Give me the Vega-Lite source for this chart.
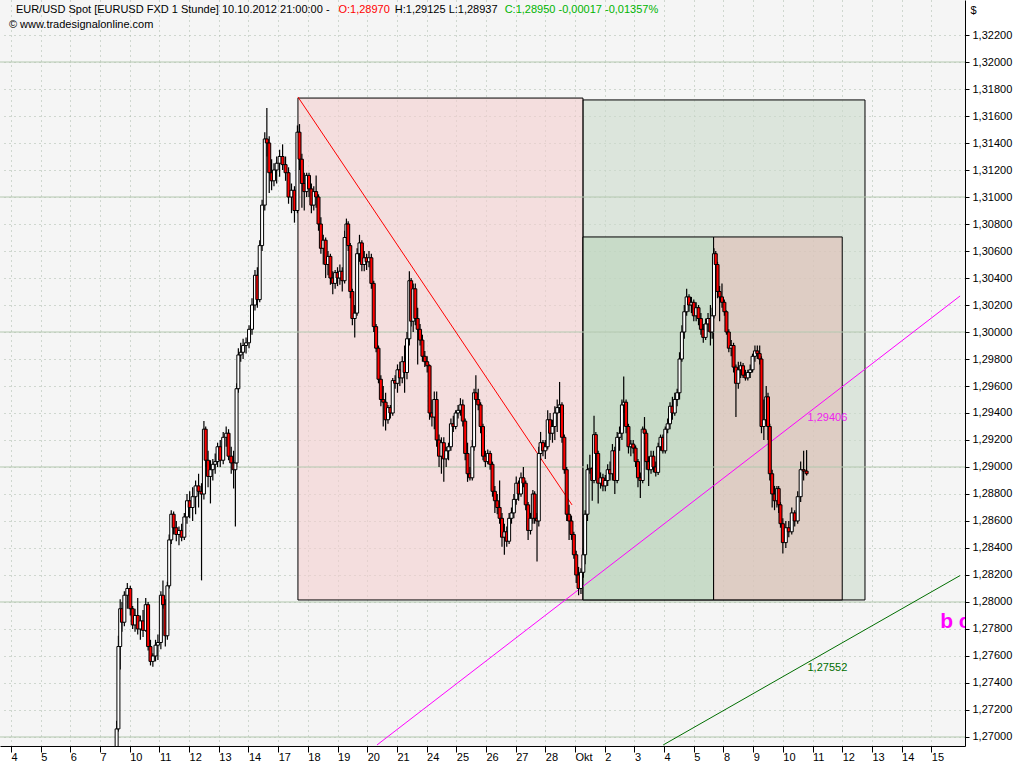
{
  "$schema": "https://vega.github.io/schema/vega-lite/v6.json",
  "width": 965,
  "height": 746,
  "autosize": {"type": "none"},
  "padding": {"left": 0, "top": 0, "right": 59, "bottom": 22},
  "background": "#ffffff",
  "config": {
    "view": {"fill": "#f5f5f5", "stroke": null},
    "font": "Liberation Sans",
    "axis": {"labelFont": "Liberation Sans", "labelFontSize": 11, "labelColor": "#000000", "tickColor": "#000000", "domainColor": "#000000", "gridColor": "#a8b8a8", "gridDash": [1, 4], "labelFlush": false, "labelOverlap": false},
    "axisX": {"tickCount": 32, "tickMinStep": 1},
    "axisY": {"tickCount": 28, "tickMinStep": 0.002}
  },
  "datasets": {
    "boxes": [
      {"zone": "Projektion", "x1": 19.267, "x2": 28.767, "y1": 1.28015, "y2": 1.31719},
      {"zone": "Abwaerts", "x1": 9.667, "x2": 19.267, "y1": 1.28015, "y2": 1.31733},
      {"zone": "Aufwaerts", "x1": 19.267, "x2": 23.667, "y1": 1.28015, "y2": 1.30704},
      {"zone": "Korrektur", "x1": 23.667, "x2": 28.0, "y1": 1.28015, "y2": 1.30704}
    ],
    "levels": [{"lvl": 1.27}, {"lvl": 1.28}, {"lvl": 1.29}, {"lvl": 1.30}, {"lvl": 1.31}, {"lvl": 1.32}],
    "lines": [
      {"name": "Abwaertstrend", "x1": 9.667, "y1": 1.31741, "x2": 18.9, "y2": 1.28719},
      {"name": "Trendlinie", "x1": 12.33, "y1": 1.26941, "x2": 31.97, "y2": 1.30267},
      {"name": "Trendlinie 2", "x1": 21.97, "y1": 1.26941, "x2": 31.97, "y2": 1.28196}
    ],
    "labels": [
      {"name": "Trendlinie", "d": 26.83, "p": 1.29406, "t": "1,29406"},
      {"name": "Trendlinie 2", "d": 26.83, "p": 1.27552, "t": "1,27552"}
    ],
    "header": [
      {"seg": "info", "d": 0.167, "p": 1.32385, "t": "EUR/USD Spot [EURUSD FXD  1 Stunde] 10.10.2012 21:00:00 -"},
      {"seg": "open", "d": 11.03, "p": 1.32385, "t": "O:1,28970"},
      {"seg": "info", "d": 12.93, "p": 1.32385, "t": "H:1,29125 L:1,28937"},
      {"seg": "close", "d": 16.63, "p": 1.32385, "t": "C:1,28950 -0,00017 -0,01357%"},
      {"seg": "info", "d": -0.067, "p": 1.32274, "t": "© www.tradesignalonline.com"}
    ],
    "candles": [
      {"d": 3.56, "o": 1.2685, "h": 1.2712, "l": 1.2680, "c": 1.2706},
      {"d": 3.62, "o": 1.2706, "h": 1.2775, "l": 1.2704, "c": 1.2767},
      {"d": 3.68, "o": 1.2767, "h": 1.2802, "l": 1.2750, "c": 1.2795},
      {"d": 3.74, "o": 1.2795, "h": 1.2800, "l": 1.2778, "c": 1.2785},
      {"d": 3.82, "o": 1.2785, "h": 1.2808, "l": 1.2782, "c": 1.2805},
      {"d": 3.92, "o": 1.2805, "h": 1.2814, "l": 1.2795, "c": 1.2810},
      {"d": 4.02, "o": 1.2810, "h": 1.2812, "l": 1.2790, "c": 1.2795},
      {"d": 4.10, "o": 1.2795, "h": 1.2797, "l": 1.2780, "c": 1.2783},
      {"d": 4.18, "o": 1.2783, "h": 1.2795, "l": 1.2778, "c": 1.2790},
      {"d": 4.27, "o": 1.2790, "h": 1.2803, "l": 1.2776, "c": 1.2780},
      {"d": 4.36, "o": 1.2780, "h": 1.2790, "l": 1.2772, "c": 1.2786},
      {"d": 4.45, "o": 1.2786, "h": 1.2794, "l": 1.2774, "c": 1.2779},
      {"d": 4.54, "o": 1.2779, "h": 1.2803, "l": 1.2778, "c": 1.2798},
      {"d": 4.62, "o": 1.2798, "h": 1.2800, "l": 1.2764, "c": 1.2767},
      {"d": 4.70, "o": 1.2767, "h": 1.2772, "l": 1.2753, "c": 1.2756},
      {"d": 4.78, "o": 1.2756, "h": 1.2762, "l": 1.2752, "c": 1.2760},
      {"d": 4.87, "o": 1.2760, "h": 1.2772, "l": 1.2756, "c": 1.2768},
      {"d": 4.95, "o": 1.2768, "h": 1.2776, "l": 1.2757, "c": 1.2770},
      {"d": 5.05, "o": 1.2770, "h": 1.2808, "l": 1.2765, "c": 1.2805},
      {"d": 5.12, "o": 1.2805, "h": 1.2816, "l": 1.2795, "c": 1.2798},
      {"d": 5.20, "o": 1.2798, "h": 1.2802, "l": 1.2767, "c": 1.2775},
      {"d": 5.27, "o": 1.2775, "h": 1.2815, "l": 1.2772, "c": 1.2812},
      {"d": 5.33, "o": 1.2812, "h": 1.2850, "l": 1.2810, "c": 1.2846},
      {"d": 5.40, "o": 1.2846, "h": 1.2868, "l": 1.2843, "c": 1.2865},
      {"d": 5.48, "o": 1.2865, "h": 1.2867, "l": 1.2850, "c": 1.2855},
      {"d": 5.57, "o": 1.2855, "h": 1.2860, "l": 1.2845, "c": 1.2850},
      {"d": 5.66, "o": 1.2850, "h": 1.2856, "l": 1.2842, "c": 1.2853},
      {"d": 5.75, "o": 1.2853, "h": 1.2858, "l": 1.2845, "c": 1.2848},
      {"d": 5.84, "o": 1.2848, "h": 1.2866, "l": 1.2846, "c": 1.2863},
      {"d": 5.93, "o": 1.2863, "h": 1.2880, "l": 1.2858, "c": 1.2875},
      {"d": 6.02, "o": 1.2875, "h": 1.2882, "l": 1.2862, "c": 1.2870},
      {"d": 6.12, "o": 1.2870, "h": 1.2885, "l": 1.2860, "c": 1.2878},
      {"d": 6.22, "o": 1.2878, "h": 1.2890, "l": 1.2865, "c": 1.2886},
      {"d": 6.32, "o": 1.2886, "h": 1.2895, "l": 1.2870, "c": 1.2882},
      {"d": 6.42, "o": 1.2882, "h": 1.2888, "l": 1.2816, "c": 1.2880},
      {"d": 6.50, "o": 1.2880, "h": 1.2934, "l": 1.2876, "c": 1.2928},
      {"d": 6.56, "o": 1.2928, "h": 1.2930, "l": 1.2900, "c": 1.2905},
      {"d": 6.64, "o": 1.2905, "h": 1.2912, "l": 1.2885, "c": 1.2893},
      {"d": 6.72, "o": 1.2893, "h": 1.2905, "l": 1.2873, "c": 1.2898},
      {"d": 6.80, "o": 1.2898, "h": 1.2906, "l": 1.2890, "c": 1.2902},
      {"d": 6.88, "o": 1.2902, "h": 1.2910, "l": 1.2895, "c": 1.2904},
      {"d": 6.96, "o": 1.2904, "h": 1.2918, "l": 1.2900, "c": 1.2915},
      {"d": 7.05, "o": 1.2915, "h": 1.2920, "l": 1.2900, "c": 1.2905},
      {"d": 7.15, "o": 1.2905, "h": 1.2926, "l": 1.2902, "c": 1.2922},
      {"d": 7.25, "o": 1.2922, "h": 1.2930, "l": 1.2915, "c": 1.2925},
      {"d": 7.33, "o": 1.2925, "h": 1.2928, "l": 1.2905, "c": 1.2908},
      {"d": 7.42, "o": 1.2908, "h": 1.2915, "l": 1.2895, "c": 1.2903},
      {"d": 7.50, "o": 1.2903, "h": 1.2912, "l": 1.2884, "c": 1.2898},
      {"d": 7.56, "o": 1.2898, "h": 1.2905, "l": 1.2856, "c": 1.2903},
      {"d": 7.60, "o": 1.2903, "h": 1.2962, "l": 1.2900, "c": 1.2958},
      {"d": 7.66, "o": 1.2958, "h": 1.2988, "l": 1.2955, "c": 1.2983},
      {"d": 7.74, "o": 1.2983, "h": 1.2992, "l": 1.2978, "c": 1.2985},
      {"d": 7.82, "o": 1.2985, "h": 1.2995, "l": 1.2980, "c": 1.2990},
      {"d": 7.92, "o": 1.2990, "h": 1.2996, "l": 1.2984, "c": 1.2992},
      {"d": 8.02, "o": 1.2992, "h": 1.3005, "l": 1.2988, "c": 1.3002},
      {"d": 8.12, "o": 1.3002, "h": 1.3025, "l": 1.2998, "c": 1.3020},
      {"d": 8.22, "o": 1.3020, "h": 1.3046, "l": 1.3016, "c": 1.3042},
      {"d": 8.30, "o": 1.3042, "h": 1.3048, "l": 1.3018, "c": 1.3024},
      {"d": 8.38, "o": 1.3024, "h": 1.3068, "l": 1.3022, "c": 1.3064},
      {"d": 8.46, "o": 1.3064, "h": 1.3098, "l": 1.3060, "c": 1.3094},
      {"d": 8.55, "o": 1.3094, "h": 1.3148, "l": 1.3090, "c": 1.3143},
      {"d": 8.62, "o": 1.3143, "h": 1.3166, "l": 1.3130, "c": 1.3140},
      {"d": 8.70, "o": 1.3140, "h": 1.3145, "l": 1.3103, "c": 1.3118},
      {"d": 8.78, "o": 1.3118, "h": 1.3128, "l": 1.3105, "c": 1.3112},
      {"d": 8.86, "o": 1.3112, "h": 1.3125, "l": 1.3108, "c": 1.3120},
      {"d": 8.95, "o": 1.3120, "h": 1.3130, "l": 1.3110, "c": 1.3125},
      {"d": 9.05, "o": 1.3125, "h": 1.3135, "l": 1.3115, "c": 1.3130},
      {"d": 9.15, "o": 1.3130, "h": 1.3139, "l": 1.3120, "c": 1.3124},
      {"d": 9.25, "o": 1.3124, "h": 1.3130, "l": 1.3112, "c": 1.3118},
      {"d": 9.35, "o": 1.3118, "h": 1.3122, "l": 1.3095, "c": 1.3100},
      {"d": 9.45, "o": 1.3100, "h": 1.3110, "l": 1.3088, "c": 1.3105},
      {"d": 9.55, "o": 1.3105, "h": 1.3108, "l": 1.3081, "c": 1.3090},
      {"d": 9.65, "o": 1.3090, "h": 1.3153, "l": 1.3088, "c": 1.3148},
      {"d": 9.72, "o": 1.3148, "h": 1.3154, "l": 1.3120, "c": 1.3128},
      {"d": 9.80, "o": 1.3128, "h": 1.3132, "l": 1.3092, "c": 1.3110},
      {"d": 9.88, "o": 1.3110, "h": 1.3118, "l": 1.3090, "c": 1.3104},
      {"d": 9.96, "o": 1.3104, "h": 1.3118, "l": 1.3100, "c": 1.3116},
      {"d": 10.04, "o": 1.3116, "h": 1.3118, "l": 1.3100, "c": 1.3106},
      {"d": 10.12, "o": 1.3106, "h": 1.3110, "l": 1.3088, "c": 1.3094},
      {"d": 10.20, "o": 1.3094, "h": 1.3108, "l": 1.3090, "c": 1.3104},
      {"d": 10.28, "o": 1.3104, "h": 1.3116, "l": 1.3092, "c": 1.3100},
      {"d": 10.36, "o": 1.3100, "h": 1.3102, "l": 1.3075, "c": 1.3080},
      {"d": 10.44, "o": 1.3080, "h": 1.3085, "l": 1.3058, "c": 1.3062},
      {"d": 10.52, "o": 1.3062, "h": 1.3072, "l": 1.3050, "c": 1.3068},
      {"d": 10.60, "o": 1.3068, "h": 1.3070, "l": 1.3040, "c": 1.3050},
      {"d": 10.68, "o": 1.3050, "h": 1.3060, "l": 1.3042, "c": 1.3056},
      {"d": 10.76, "o": 1.3056, "h": 1.3058, "l": 1.3035, "c": 1.3040},
      {"d": 10.84, "o": 1.3040, "h": 1.3045, "l": 1.3028, "c": 1.3036},
      {"d": 10.92, "o": 1.3036, "h": 1.3046, "l": 1.3032, "c": 1.3044},
      {"d": 11.00, "o": 1.3044, "h": 1.3048, "l": 1.3034, "c": 1.3040},
      {"d": 11.08, "o": 1.3040, "h": 1.3050, "l": 1.3035, "c": 1.3045},
      {"d": 11.16, "o": 1.3045, "h": 1.3048, "l": 1.3030, "c": 1.3038},
      {"d": 11.24, "o": 1.3038, "h": 1.3075, "l": 1.3036, "c": 1.3070},
      {"d": 11.30, "o": 1.3070, "h": 1.3084, "l": 1.3066, "c": 1.3080},
      {"d": 11.36, "o": 1.3080, "h": 1.3082, "l": 1.3060, "c": 1.3064},
      {"d": 11.43, "o": 1.3064, "h": 1.3066, "l": 1.3025, "c": 1.3030},
      {"d": 11.50, "o": 1.3030, "h": 1.3032, "l": 1.3005, "c": 1.3010},
      {"d": 11.58, "o": 1.3010, "h": 1.3020, "l": 1.2996, "c": 1.3014},
      {"d": 11.66, "o": 1.3014, "h": 1.3062, "l": 1.3012, "c": 1.3058},
      {"d": 11.74, "o": 1.3058, "h": 1.3072, "l": 1.3052, "c": 1.3066},
      {"d": 11.82, "o": 1.3066, "h": 1.3068, "l": 1.3045, "c": 1.3050},
      {"d": 11.90, "o": 1.3050, "h": 1.3060, "l": 1.3045, "c": 1.3055},
      {"d": 11.98, "o": 1.3055, "h": 1.3058, "l": 1.3046, "c": 1.3052},
      {"d": 12.06, "o": 1.3052, "h": 1.3060, "l": 1.3048, "c": 1.3055},
      {"d": 12.14, "o": 1.3055, "h": 1.3058, "l": 1.3032, "c": 1.3036},
      {"d": 12.22, "o": 1.3036, "h": 1.3038, "l": 1.3000, "c": 1.3004},
      {"d": 12.30, "o": 1.3004, "h": 1.3006, "l": 1.2985, "c": 1.2988},
      {"d": 12.38, "o": 1.2988, "h": 1.2990, "l": 1.2962, "c": 1.2965},
      {"d": 12.46, "o": 1.2965, "h": 1.2968, "l": 1.2945, "c": 1.2950},
      {"d": 12.54, "o": 1.2950, "h": 1.2960, "l": 1.2930, "c": 1.2948},
      {"d": 12.62, "o": 1.2948, "h": 1.2955, "l": 1.2927, "c": 1.2935},
      {"d": 12.70, "o": 1.2935, "h": 1.2946, "l": 1.2932, "c": 1.2944},
      {"d": 12.78, "o": 1.2944, "h": 1.2946, "l": 1.2936, "c": 1.2940},
      {"d": 12.86, "o": 1.2940, "h": 1.2966, "l": 1.2938, "c": 1.2964},
      {"d": 12.94, "o": 1.2964, "h": 1.2968, "l": 1.2958, "c": 1.2962},
      {"d": 13.02, "o": 1.2962, "h": 1.2976, "l": 1.2955, "c": 1.2972},
      {"d": 13.10, "o": 1.2972, "h": 1.2978, "l": 1.2960, "c": 1.2966},
      {"d": 13.18, "o": 1.2966, "h": 1.2982, "l": 1.2962, "c": 1.2978},
      {"d": 13.26, "o": 1.2978, "h": 1.2990, "l": 1.2955, "c": 1.2970},
      {"d": 13.34, "o": 1.2970, "h": 1.3000, "l": 1.2965, "c": 1.2995},
      {"d": 13.42, "o": 1.2995, "h": 1.3045, "l": 1.2990, "c": 1.3038},
      {"d": 13.48, "o": 1.3038, "h": 1.3040, "l": 1.3004, "c": 1.3008},
      {"d": 13.55, "o": 1.3008, "h": 1.3036, "l": 1.3000, "c": 1.3032},
      {"d": 13.62, "o": 1.3032, "h": 1.3036, "l": 1.3005, "c": 1.3010},
      {"d": 13.70, "o": 1.3010, "h": 1.3018, "l": 1.2976, "c": 1.3002},
      {"d": 13.78, "o": 1.3002, "h": 1.3006, "l": 1.2990, "c": 1.2994},
      {"d": 13.86, "o": 1.2994, "h": 1.2998, "l": 1.2978, "c": 1.2982},
      {"d": 13.94, "o": 1.2982, "h": 1.2986, "l": 1.2974, "c": 1.2978},
      {"d": 14.02, "o": 1.2978, "h": 1.2982, "l": 1.2970, "c": 1.2975},
      {"d": 14.10, "o": 1.2975, "h": 1.2976, "l": 1.2935, "c": 1.2940},
      {"d": 14.18, "o": 1.2940, "h": 1.2950, "l": 1.2930, "c": 1.2937},
      {"d": 14.26, "o": 1.2937, "h": 1.2956, "l": 1.2928, "c": 1.2950},
      {"d": 14.34, "o": 1.2950, "h": 1.2956, "l": 1.2915, "c": 1.2920},
      {"d": 14.42, "o": 1.2920, "h": 1.2924, "l": 1.2900, "c": 1.2908},
      {"d": 14.50, "o": 1.2908, "h": 1.2922, "l": 1.2895, "c": 1.2918},
      {"d": 14.58, "o": 1.2918, "h": 1.2922, "l": 1.2889, "c": 1.2906},
      {"d": 14.66, "o": 1.2906, "h": 1.2915, "l": 1.2900, "c": 1.2912},
      {"d": 14.74, "o": 1.2912, "h": 1.2918, "l": 1.2905, "c": 1.2915},
      {"d": 14.82, "o": 1.2915, "h": 1.2936, "l": 1.2912, "c": 1.2932},
      {"d": 14.90, "o": 1.2932, "h": 1.2938, "l": 1.2926, "c": 1.2930},
      {"d": 14.98, "o": 1.2930, "h": 1.2942, "l": 1.2928, "c": 1.2940},
      {"d": 15.06, "o": 1.2940, "h": 1.2946, "l": 1.2936, "c": 1.2942},
      {"d": 15.14, "o": 1.2942, "h": 1.2951, "l": 1.2938, "c": 1.2946},
      {"d": 15.22, "o": 1.2946, "h": 1.2950, "l": 1.2930, "c": 1.2934},
      {"d": 15.30, "o": 1.2934, "h": 1.2936, "l": 1.2905, "c": 1.2910},
      {"d": 15.38, "o": 1.2910, "h": 1.2918, "l": 1.2889, "c": 1.2895},
      {"d": 15.46, "o": 1.2895, "h": 1.2900, "l": 1.2890, "c": 1.2892},
      {"d": 15.54, "o": 1.2892, "h": 1.2920, "l": 1.2890, "c": 1.2915},
      {"d": 15.60, "o": 1.2915, "h": 1.2958, "l": 1.2912, "c": 1.2955},
      {"d": 15.66, "o": 1.2955, "h": 1.2968, "l": 1.2948, "c": 1.2950},
      {"d": 15.74, "o": 1.2950, "h": 1.2958, "l": 1.2942, "c": 1.2946},
      {"d": 15.82, "o": 1.2946, "h": 1.2948, "l": 1.2925, "c": 1.2930},
      {"d": 15.90, "o": 1.2930, "h": 1.2932, "l": 1.2905, "c": 1.2908},
      {"d": 15.98, "o": 1.2908, "h": 1.2912, "l": 1.2900, "c": 1.2904},
      {"d": 16.06, "o": 1.2904, "h": 1.2913, "l": 1.2902, "c": 1.2910},
      {"d": 16.14, "o": 1.2910, "h": 1.2912, "l": 1.2898, "c": 1.2902},
      {"d": 16.22, "o": 1.2902, "h": 1.2904, "l": 1.2878, "c": 1.2882},
      {"d": 16.30, "o": 1.2882, "h": 1.2886, "l": 1.2866, "c": 1.2875},
      {"d": 16.38, "o": 1.2875, "h": 1.2880, "l": 1.2865, "c": 1.2870},
      {"d": 16.46, "o": 1.2870, "h": 1.2890, "l": 1.2858, "c": 1.2862},
      {"d": 16.54, "o": 1.2862, "h": 1.2866, "l": 1.2841, "c": 1.2848},
      {"d": 16.62, "o": 1.2848, "h": 1.2858, "l": 1.2835, "c": 1.2852},
      {"d": 16.70, "o": 1.2852, "h": 1.2856, "l": 1.2841, "c": 1.2845},
      {"d": 16.78, "o": 1.2845, "h": 1.2866, "l": 1.2843, "c": 1.2862},
      {"d": 16.86, "o": 1.2862, "h": 1.2870, "l": 1.2858, "c": 1.2866},
      {"d": 16.94, "o": 1.2866, "h": 1.2880, "l": 1.2862, "c": 1.2876},
      {"d": 17.02, "o": 1.2876, "h": 1.2893, "l": 1.2872, "c": 1.2888},
      {"d": 17.10, "o": 1.2888, "h": 1.2890, "l": 1.2875, "c": 1.2880},
      {"d": 17.18, "o": 1.2880, "h": 1.2896, "l": 1.2878, "c": 1.2892},
      {"d": 17.26, "o": 1.2892, "h": 1.2900, "l": 1.2885, "c": 1.2888},
      {"d": 17.34, "o": 1.2888, "h": 1.2890, "l": 1.2868, "c": 1.2872},
      {"d": 17.42, "o": 1.2872, "h": 1.2874, "l": 1.2846, "c": 1.2853},
      {"d": 17.50, "o": 1.2853, "h": 1.2866, "l": 1.2850, "c": 1.2862},
      {"d": 17.58, "o": 1.2862, "h": 1.2883, "l": 1.2858, "c": 1.2880},
      {"d": 17.64, "o": 1.2880, "h": 1.2882, "l": 1.2858, "c": 1.2862},
      {"d": 17.72, "o": 1.2862, "h": 1.2866, "l": 1.2830, "c": 1.2860},
      {"d": 17.78, "o": 1.2860, "h": 1.2915, "l": 1.2856, "c": 1.2910},
      {"d": 17.84, "o": 1.2910, "h": 1.2926, "l": 1.2905, "c": 1.2918},
      {"d": 17.92, "o": 1.2918, "h": 1.2920, "l": 1.2908, "c": 1.2912},
      {"d": 18.00, "o": 1.2912, "h": 1.2920, "l": 1.2906, "c": 1.2915},
      {"d": 18.08, "o": 1.2915, "h": 1.2942, "l": 1.2913, "c": 1.2935},
      {"d": 18.16, "o": 1.2935, "h": 1.2940, "l": 1.2920, "c": 1.2925},
      {"d": 18.24, "o": 1.2925, "h": 1.2935, "l": 1.2918, "c": 1.2930},
      {"d": 18.32, "o": 1.2930, "h": 1.2945, "l": 1.2920, "c": 1.2940},
      {"d": 18.40, "o": 1.2940, "h": 1.2950, "l": 1.2926, "c": 1.2944},
      {"d": 18.48, "o": 1.2944, "h": 1.2963, "l": 1.2940, "c": 1.2946},
      {"d": 18.56, "o": 1.2946, "h": 1.2948, "l": 1.2918, "c": 1.2922},
      {"d": 18.64, "o": 1.2922, "h": 1.2924, "l": 1.2895, "c": 1.2898},
      {"d": 18.72, "o": 1.2898, "h": 1.2900, "l": 1.2860, "c": 1.2865},
      {"d": 18.80, "o": 1.2865, "h": 1.2872, "l": 1.2846, "c": 1.2860},
      {"d": 18.88, "o": 1.2860, "h": 1.2864, "l": 1.2846, "c": 1.2850},
      {"d": 18.96, "o": 1.2850, "h": 1.2852, "l": 1.2832, "c": 1.2835},
      {"d": 19.04, "o": 1.2835, "h": 1.2838, "l": 1.2814, "c": 1.2820},
      {"d": 19.12, "o": 1.2820, "h": 1.2826, "l": 1.2805, "c": 1.2810},
      {"d": 19.20, "o": 1.2810, "h": 1.2825, "l": 1.2806, "c": 1.2822},
      {"d": 19.28, "o": 1.2822, "h": 1.2840, "l": 1.2818, "c": 1.2835},
      {"d": 19.34, "o": 1.2835, "h": 1.2868, "l": 1.2828, "c": 1.2865},
      {"d": 19.42, "o": 1.2865, "h": 1.2902, "l": 1.2860, "c": 1.2898},
      {"d": 19.50, "o": 1.2898, "h": 1.2909, "l": 1.2895, "c": 1.2899},
      {"d": 19.58, "o": 1.2899, "h": 1.2900, "l": 1.2875, "c": 1.2890},
      {"d": 19.64, "o": 1.2890, "h": 1.2938, "l": 1.2888, "c": 1.2924},
      {"d": 19.70, "o": 1.2924, "h": 1.2926, "l": 1.2905, "c": 1.2910},
      {"d": 19.78, "o": 1.2910, "h": 1.2912, "l": 1.2873, "c": 1.2888},
      {"d": 19.86, "o": 1.2888, "h": 1.2896, "l": 1.2884, "c": 1.2892},
      {"d": 19.94, "o": 1.2892, "h": 1.2895, "l": 1.2882, "c": 1.2886},
      {"d": 20.02, "o": 1.2886, "h": 1.2894, "l": 1.2882, "c": 1.2890},
      {"d": 20.10, "o": 1.2890, "h": 1.2902, "l": 1.2886, "c": 1.2898},
      {"d": 20.18, "o": 1.2898, "h": 1.2904, "l": 1.2890, "c": 1.2895},
      {"d": 20.26, "o": 1.2895, "h": 1.2917, "l": 1.2890, "c": 1.2912},
      {"d": 20.34, "o": 1.2912, "h": 1.2915, "l": 1.2880, "c": 1.2890},
      {"d": 20.42, "o": 1.2890, "h": 1.2926, "l": 1.2888, "c": 1.2922},
      {"d": 20.50, "o": 1.2922, "h": 1.2930, "l": 1.2912, "c": 1.2925},
      {"d": 20.58, "o": 1.2925, "h": 1.2950, "l": 1.2920, "c": 1.2946},
      {"d": 20.64, "o": 1.2946, "h": 1.2967, "l": 1.2940, "c": 1.2948},
      {"d": 20.72, "o": 1.2948, "h": 1.2950, "l": 1.2925, "c": 1.2930},
      {"d": 20.80, "o": 1.2930, "h": 1.2932, "l": 1.2910, "c": 1.2915},
      {"d": 20.88, "o": 1.2915, "h": 1.2920, "l": 1.2908, "c": 1.2917},
      {"d": 20.96, "o": 1.2917, "h": 1.2920, "l": 1.2910, "c": 1.2914},
      {"d": 21.04, "o": 1.2914, "h": 1.2916, "l": 1.2900, "c": 1.2904},
      {"d": 21.12, "o": 1.2904, "h": 1.2906, "l": 1.2885, "c": 1.2892},
      {"d": 21.20, "o": 1.2892, "h": 1.2896, "l": 1.2877, "c": 1.2890},
      {"d": 21.28, "o": 1.2890, "h": 1.2930, "l": 1.2888, "c": 1.2928},
      {"d": 21.34, "o": 1.2928, "h": 1.2937, "l": 1.2920, "c": 1.2925},
      {"d": 21.40, "o": 1.2925, "h": 1.2927, "l": 1.2898, "c": 1.2904},
      {"d": 21.48, "o": 1.2904, "h": 1.2908, "l": 1.2886, "c": 1.2898},
      {"d": 21.56, "o": 1.2898, "h": 1.2912, "l": 1.2895, "c": 1.2908},
      {"d": 21.64, "o": 1.2908, "h": 1.2912, "l": 1.2896, "c": 1.2900},
      {"d": 21.72, "o": 1.2900, "h": 1.2904, "l": 1.2893, "c": 1.2896},
      {"d": 21.80, "o": 1.2896, "h": 1.2918, "l": 1.2894, "c": 1.2915},
      {"d": 21.88, "o": 1.2915, "h": 1.2924, "l": 1.2912, "c": 1.2922},
      {"d": 21.96, "o": 1.2922, "h": 1.2924, "l": 1.2910, "c": 1.2912},
      {"d": 22.04, "o": 1.2912, "h": 1.2930, "l": 1.2910, "c": 1.2928},
      {"d": 22.12, "o": 1.2928, "h": 1.2936, "l": 1.2925, "c": 1.2932},
      {"d": 22.20, "o": 1.2932, "h": 1.2948, "l": 1.2928, "c": 1.2945},
      {"d": 22.28, "o": 1.2945, "h": 1.2952, "l": 1.2935, "c": 1.2940},
      {"d": 22.36, "o": 1.2940, "h": 1.2955, "l": 1.2938, "c": 1.2950},
      {"d": 22.44, "o": 1.2950, "h": 1.2958, "l": 1.2945, "c": 1.2955},
      {"d": 22.52, "o": 1.2955, "h": 1.2985, "l": 1.2950, "c": 1.2980},
      {"d": 22.60, "o": 1.2980, "h": 1.3005, "l": 1.2978, "c": 1.3000},
      {"d": 22.68, "o": 1.3000, "h": 1.3020, "l": 1.2995, "c": 1.3015},
      {"d": 22.76, "o": 1.3015, "h": 1.3032, "l": 1.3012, "c": 1.3026},
      {"d": 22.84, "o": 1.3026, "h": 1.3028, "l": 1.3015, "c": 1.3020},
      {"d": 22.92, "o": 1.3020, "h": 1.3026, "l": 1.3014, "c": 1.3022},
      {"d": 23.00, "o": 1.3022, "h": 1.3024, "l": 1.3008, "c": 1.3012},
      {"d": 23.08, "o": 1.3012, "h": 1.3022, "l": 1.3008, "c": 1.3018},
      {"d": 23.16, "o": 1.3018, "h": 1.3020, "l": 1.3005, "c": 1.3010},
      {"d": 23.24, "o": 1.3010, "h": 1.3014, "l": 1.2998, "c": 1.3002},
      {"d": 23.32, "o": 1.3002, "h": 1.3006, "l": 1.2992, "c": 1.2996},
      {"d": 23.40, "o": 1.2996, "h": 1.3010, "l": 1.2994, "c": 1.3006},
      {"d": 23.48, "o": 1.3006, "h": 1.3014, "l": 1.3000, "c": 1.3010},
      {"d": 23.56, "o": 1.3010, "h": 1.3020, "l": 1.2990, "c": 1.3000},
      {"d": 23.62, "o": 1.3000, "h": 1.3018, "l": 1.2995, "c": 1.3012},
      {"d": 23.68, "o": 1.3012, "h": 1.3062, "l": 1.3010, "c": 1.3058},
      {"d": 23.74, "o": 1.3058, "h": 1.3060, "l": 1.3045, "c": 1.3050},
      {"d": 23.80, "o": 1.3050, "h": 1.3052, "l": 1.3025, "c": 1.3030},
      {"d": 23.87, "o": 1.3030, "h": 1.3034, "l": 1.3008, "c": 1.3026},
      {"d": 23.95, "o": 1.3026, "h": 1.3036, "l": 1.3018, "c": 1.3022},
      {"d": 24.03, "o": 1.3022, "h": 1.3024, "l": 1.3012, "c": 1.3015},
      {"d": 24.10, "o": 1.3015, "h": 1.3016, "l": 1.2998, "c": 1.3000},
      {"d": 24.18, "o": 1.3000, "h": 1.3002, "l": 1.2985, "c": 1.2988},
      {"d": 24.26, "o": 1.2988, "h": 1.2994, "l": 1.2982, "c": 1.2990},
      {"d": 24.34, "o": 1.2990, "h": 1.2992, "l": 1.2970, "c": 1.2974},
      {"d": 24.42, "o": 1.2974, "h": 1.2976, "l": 1.2937, "c": 1.2962},
      {"d": 24.50, "o": 1.2962, "h": 1.2978, "l": 1.2958, "c": 1.2972},
      {"d": 24.58, "o": 1.2972, "h": 1.2978, "l": 1.2966, "c": 1.2975},
      {"d": 24.66, "o": 1.2975, "h": 1.2977, "l": 1.2966, "c": 1.2968},
      {"d": 24.74, "o": 1.2968, "h": 1.2972, "l": 1.2964, "c": 1.2966},
      {"d": 24.82, "o": 1.2966, "h": 1.2972, "l": 1.2964, "c": 1.2970},
      {"d": 24.90, "o": 1.2970, "h": 1.2976, "l": 1.2966, "c": 1.2972},
      {"d": 24.98, "o": 1.2972, "h": 1.2984, "l": 1.2970, "c": 1.2982},
      {"d": 25.06, "o": 1.2982, "h": 1.2990, "l": 1.2978, "c": 1.2986},
      {"d": 25.14, "o": 1.2986, "h": 1.2990, "l": 1.2980, "c": 1.2984},
      {"d": 25.22, "o": 1.2984, "h": 1.2990, "l": 1.2976, "c": 1.2980},
      {"d": 25.28, "o": 1.2980, "h": 1.2982, "l": 1.2925, "c": 1.2930},
      {"d": 25.36, "o": 1.2930, "h": 1.2950, "l": 1.2920, "c": 1.2935},
      {"d": 25.44, "o": 1.2935, "h": 1.2960, "l": 1.2932, "c": 1.2952},
      {"d": 25.50, "o": 1.2952, "h": 1.2955, "l": 1.2920, "c": 1.2930},
      {"d": 25.56, "o": 1.2930, "h": 1.2932, "l": 1.2890, "c": 1.2895},
      {"d": 25.64, "o": 1.2895, "h": 1.2898, "l": 1.2870, "c": 1.2880},
      {"d": 25.72, "o": 1.2880, "h": 1.2886, "l": 1.2868, "c": 1.2875},
      {"d": 25.80, "o": 1.2875, "h": 1.2886, "l": 1.2870, "c": 1.2884},
      {"d": 25.86, "o": 1.2884, "h": 1.2886, "l": 1.2866, "c": 1.2872},
      {"d": 25.92, "o": 1.2872, "h": 1.2874, "l": 1.2855, "c": 1.2858},
      {"d": 26.00, "o": 1.2858, "h": 1.2862, "l": 1.2836, "c": 1.2844},
      {"d": 26.10, "o": 1.2844, "h": 1.2860, "l": 1.2840, "c": 1.2855},
      {"d": 26.20, "o": 1.2855, "h": 1.2860, "l": 1.2848, "c": 1.2852},
      {"d": 26.30, "o": 1.2852, "h": 1.2870, "l": 1.2850, "c": 1.2866},
      {"d": 26.40, "o": 1.2866, "h": 1.2868, "l": 1.2856, "c": 1.2860},
      {"d": 26.50, "o": 1.2860, "h": 1.2882, "l": 1.2858, "c": 1.2878},
      {"d": 26.60, "o": 1.2878, "h": 1.2904, "l": 1.2874, "c": 1.2898},
      {"d": 26.70, "o": 1.2898, "h": 1.2912, "l": 1.2890, "c": 1.2897},
      {"d": 26.80, "o": 1.2897, "h": 1.29125, "l": 1.28937, "c": 1.2895}
    ]
  },
  "layer": [
    {
      "data": {"name": "boxes"},
      "mark": {"type": "rect", "fillOpacity": 0.6, "stroke": "#000000", "strokeWidth": 1, "clip": true},
      "encoding": {
        "x": {"field": "x1", "type": "quantitative", "scale": {"domain": [-0.2, 31.967], "nice": false, "zero": false},
          "axis": {"orient": "bottom", "title": null, "values": [0,1,2,3,4,5,6,7,8,9,10,11,12,13,14,15,16,17,18,19,20,21,22,23,24,25,26,27,28,29,30,31], "tickCount": 32, "tickMinStep": 1,
            "labelExpr": "['4','5','6','7','10','11','12','13','14','17','18','19','20','21','24','25','26','27','28','Okt','2','3','4','5','8','9','10','11','12','13','14','15'][datum.value]",
            "labelAlign": "left", "labelBaseline": "top", "labelPadding": -1, "labelDx": 2, "tickSize": 6, "grid": true, "labelOverlap": false, "labelFlush": false}},
        "x2": {"field": "x2"},
        "y": {"field": "y1", "type": "quantitative", "scale": {"domain": [1.269333, 1.324593], "nice": false, "zero": false},
          "axis": {"orient": "right", "title": "$", "titleAngle": 0, "titleAlign": "left", "titleBaseline": "top", "titleX": 5, "titleY": 4, "titleFontWeight": "normal", "titleFontSize": 11, "titleFont": "Liberation Sans", "titleColor": "#000000",
            "values": [1.270,1.272,1.274,1.276,1.278,1.280,1.282,1.284,1.286,1.288,1.290,1.292,1.294,1.296,1.298,1.300,1.302,1.304,1.306,1.308,1.310,1.312,1.314,1.316,1.318,1.320,1.322], "tickCount": 28, "tickMinStep": 0.002,
            "labelExpr": "replace(format(datum.value, '.5f'), '.', ',')", "tickSize": 4, "labelPadding": 3, "grid": true, "labelOverlap": false, "labelFlush": false}},
        "y2": {"field": "y2"},
        "fill": {"field": "zone", "type": "nominal", "legend": null,
          "scale": {"domain": ["Projektion", "Abwaerts", "Aufwaerts", "Korrektur"], "range": ["#cbdacb", "#f3cfcf", "#bbd3bb", "#dfbdb4"]}}
      }
    },
    {
      "data": {"name": "levels"},
      "mark": {"type": "rule", "color": "#b4c8b0", "strokeWidth": 1},
      "encoding": {"y": {"field": "lvl", "type": "quantitative"}}
    },
    {
      "mark": {"type": "rule", "color": "#b4c8b0", "strokeWidth": 1},
      "encoding": {"x": {"datum": 19, "type": "quantitative"}}
    },
    {
      "data": {"name": "lines"},
      "mark": {"type": "rule", "strokeWidth": 1, "clip": true},
      "encoding": {
        "x": {"field": "x1", "type": "quantitative"},
        "x2": {"field": "x2"},
        "y": {"field": "y1", "type": "quantitative"},
        "y2": {"field": "y2"},
        "color": {"field": "name", "type": "nominal", "legend": null,
          "scale": {"domain": ["Abwaertstrend", "Trendlinie", "Trendlinie 2"], "range": ["#ff0000", "#ff00ff", "#006e00"]}}
      }
    },
    {
      "data": {"name": "candles"},
      "layer": [
        {
          "mark": {"type": "rule", "color": "#000000", "strokeWidth": 1.2, "clip": true},
          "encoding": {
            "x": {"field": "d", "type": "quantitative"},
            "y": {"field": "l", "type": "quantitative"},
            "y2": {"field": "h"}
          }
        },
        {
          "mark": {"type": "bar", "orient": "vertical", "size": 3, "stroke": "#000000", "strokeWidth": 1, "clip": true},
          "encoding": {
            "x": {"field": "d", "type": "quantitative"},
            "y": {"field": "o", "type": "quantitative"},
            "y2": {"field": "c"},
            "fill": {"condition": {"test": "datum.c < datum.o", "value": "#ff0000"}, "value": "#ffffff"}
          }
        }
      ]
    },
    {
      "data": {"name": "labels"},
      "mark": {"type": "text", "align": "left", "baseline": "top", "fontSize": 11, "font": "Liberation Sans"},
      "encoding": {
        "x": {"field": "d", "type": "quantitative"},
        "y": {"field": "p", "type": "quantitative"},
        "text": {"field": "t"},
        "color": {"field": "name", "type": "nominal", "legend": null,
          "scale": {"domain": ["Trendlinie", "Trendlinie 2"], "range": ["#ee22ee", "#006e00"]}}
      }
    },
    {
      "data": {"values": [{"d": 31.3, "p": 1.27852, "t": "b c"}]},
      "mark": {"type": "text", "align": "left", "baseline": "middle", "fontSize": 21, "fontWeight": "bold", "font": "Liberation Sans", "color": "#ff00ff", "clip": true},
      "encoding": {
        "x": {"field": "d", "type": "quantitative"},
        "y": {"field": "p", "type": "quantitative"},
        "text": {"field": "t"}
      }
    },
    {
      "data": {"name": "header"},
      "mark": {"type": "text", "align": "left", "baseline": "middle", "fontSize": 11, "font": "Liberation Sans"},
      "encoding": {
        "x": {"field": "d", "type": "quantitative"},
        "y": {"field": "p", "type": "quantitative"},
        "text": {"field": "t"},
        "color": {"field": "seg", "type": "nominal", "legend": null,
          "scale": {"domain": ["info", "open", "close"], "range": ["#000000", "#ff0000", "#00b400"]}}
      }
    }
  ],
  "resolve": {"scale": {"color": "independent", "fill": "independent"}}
}
